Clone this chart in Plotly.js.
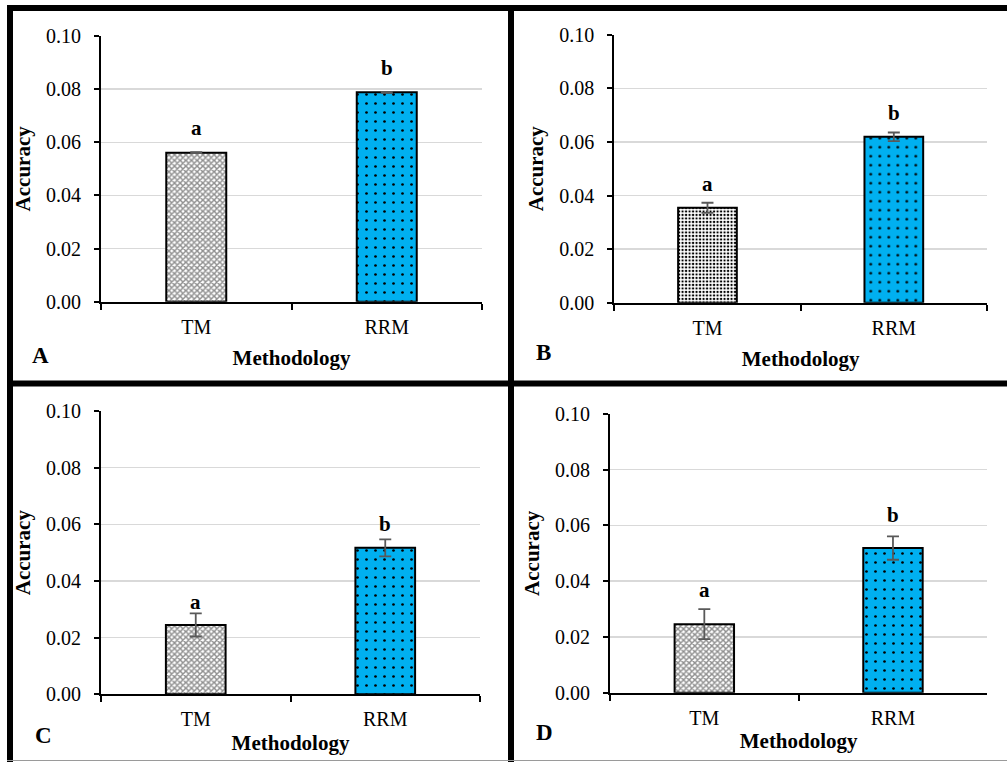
<!DOCTYPE html>
<html>
<head>
<meta charset="utf-8">
<script src="https://cdn.plot.ly/plotly-3.0.1.min.js"></script>
<style>
  html, body { margin: 0; padding: 0; background: #ffffff; }
  #chart { width: 1007px; height: 762px; }
</style>
</head>
<body>
<div id="chart"></div>
<script>
// ---- data ----
const categories = ['TM', 'RRM'];
const accuracyA = [0.0561, 0.0788];
const errorA    = [0.0002, 0.0002];
const accuracyB = [0.0354, 0.0619];
const errorB    = [0.0019, 0.0016];
const accuracyC = [0.0245, 0.0517];
const errorC    = [0.0041, 0.0030];
const accuracyD = [0.0246, 0.0519];
const errorD    = [0.0054, 0.0042];
const sigLetters  = ['a', 'b'];
const panelLabels = ['A', 'B', 'C', 'D'];
const yTickVals = [0, 0.02, 0.04, 0.06, 0.08, 0.10];
const yTickText = ['0.00', '0.02', '0.04', '0.06', '0.08', '0.10'];
const xTitle = 'Methodology';
const yTitle = 'Accuracy';

// ---- styling ----
const W = 1007, H = 762;
const SERIF = "'Liberation Serif', 'Times New Roman', 'DejaVu Serif', serif";
const px = x => x / W;
const py = y => 1 - y / H;

const panels = [
  { vals: accuracyA, errs: errorA, tmPattern: 'check', dom: {x: [101, 482], y: [36, 301.7]}, shift: [10, 10], label: [40, 355], xstand: 14, ystand: 10 },
  { vals: accuracyB, errs: errorB, tmPattern: 'dense', dom: {x: [614.3, 987], y: [34.7, 302.7]}, shift: [5, 6], label: [543, 352], xstand: 14, ystand: 10 },
  { vals: accuracyC, errs: errorC, tmPattern: 'check', dom: {x: [101, 480], y: [411, 694.3]}, shift: [-3, 1], label: [43, 735], xstand: 6, ystand: 10 },
  { vals: accuracyD, errs: errorD, tmPattern: 'check', dom: {x: [610, 987.3], y: [414, 692.7]}, shift: [5, 7], label: [544, 732], xstand: 6, ystand: 10 }
];

const patterns = {
  check: { shape: 'x', size: 4, solidity: 0.6, fgcolor: '#8f8f8f', bgcolor: '#ffffff' },
  dense: { shape: '.', size: 3.5, solidity: 0.35, fgcolor: '#000000', bgcolor: '#ffffff' },
  blue:  { shape: '.', size: 9, solidity: 0.07, fgcolor: '#000000', bgcolor: '#00b0f0' }
};

const traces = [];
const layout = {
  width: W, height: H,
  margin: {l: 0, r: 0, t: 0, b: 0},
  paper_bgcolor: '#ffffff',
  plot_bgcolor: '#ffffff',
  showlegend: false,
  font: {family: SERIF, color: '#000000', size: 20},
  annotations: [],
  shapes: []
};

panels.forEach((p, i) => {
  const n = i + 1;
  const xa = n === 1 ? 'x' : 'x' + n;
  const ya = n === 1 ? 'y' : 'y' + n;
  const xKey = n === 1 ? 'xaxis' : 'xaxis' + n;
  const yKey = n === 1 ? 'yaxis' : 'yaxis' + n;
  const pats = [patterns[p.tmPattern], patterns.blue];
  categories.forEach((c, k) => {
    traces.push({
      type: 'bar',
      x: [c], y: [p.vals[k]],
      xaxis: xa, yaxis: ya,
      width: 0.315,
      marker: {
        color: pats[k].bgcolor,
        line: {color: '#000000', width: 2},
        pattern: {shape: pats[k].shape, size: pats[k].size, solidity: pats[k].solidity,
                  fgcolor: pats[k].fgcolor, bgcolor: pats[k].bgcolor, fillmode: 'replace'}
      },
      error_y: {type: 'data', array: [p.errs[k]], visible: true, color: '#595959', thickness: 1.8, width: 6},
      hoverinfo: 'x+y'
    });
    layout.annotations.push({
      xref: xa, yref: ya, x: c, y: p.vals[k] + p.errs[k],
      text: sigLetters[k], showarrow: false, yanchor: 'bottom', yshift: p.shift[k],
      font: {family: SERIF, size: 21, weight: 'bold', color: '#000000'}
    });
  });
  layout[xKey] = {
    domain: [px(p.dom.x[0]), px(p.dom.x[1])],
    anchor: ya,
    type: 'category',
    categoryorder: 'array', categoryarray: categories,
    range: [-0.5, 1.5],
    showline: true, linecolor: '#000000', linewidth: 2,
    ticks: 'outside', tickson: 'boundaries', ticklen: 6, tickwidth: 2, tickcolor: '#000000',
    ticklabelstandoff: 6,
    tickfont: {family: SERIF, size: 20, color: '#000000'},
    showgrid: false, zeroline: false, fixedrange: true,
    title: {text: xTitle, standoff: p.xstand, font: {family: SERIF, size: 21, weight: 'bold', color: '#000000'}}
  };
  layout[yKey] = {
    domain: [py(p.dom.y[1]), py(p.dom.y[0])],
    anchor: xa,
    range: [0, 0.1],
    tickvals: yTickVals, ticktext: yTickText,
    showline: true, linecolor: '#000000', linewidth: 2,
    ticks: 'outside', ticklen: 5, tickwidth: 2, tickcolor: '#000000',
    ticklabelstandoff: 9,
    tickfont: {family: SERIF, size: 20, color: '#000000'},
    showgrid: true, gridcolor: '#d9d9d9', gridwidth: 1.5,
    zeroline: false, fixedrange: true,
    title: {text: yTitle, standoff: p.ystand, font: {family: SERIF, size: 21, weight: 'bold', color: '#000000'}}
  };
  layout.annotations.push({
    xref: 'paper', yref: 'paper', x: px(p.label[0]), y: py(p.label[1]),
    xanchor: 'center', yanchor: 'middle', showarrow: false,
    text: panelLabels[i],
    font: {family: SERIF, size: 23, weight: 'bold', color: '#000000'}
  });
});

// panel frame lines
const frame = [
  [7, 8, 1007, 8, 6, '#000000'],
  [10, 5, 10, 762, 6, '#000000'],
  [511, 5, 511, 762, 6, '#000000'],
  [7, 383.5, 1007, 383.5, 6, '#000000'],
  [7, 760.5, 1007, 760.5, 1, '#9a9a9a']
];
frame.forEach(f => {
  layout.shapes.push({
    type: 'line', xref: 'paper', yref: 'paper',
    x0: px(f[0]), y0: py(f[1]), x1: px(f[2]), y1: py(f[3]),
    line: {color: f[5], width: f[4]}, layer: 'above'
  });
});

Plotly.newPlot('chart', traces, layout, {displayModeBar: false, staticPlot: true});
</script>
</body>
</html>
